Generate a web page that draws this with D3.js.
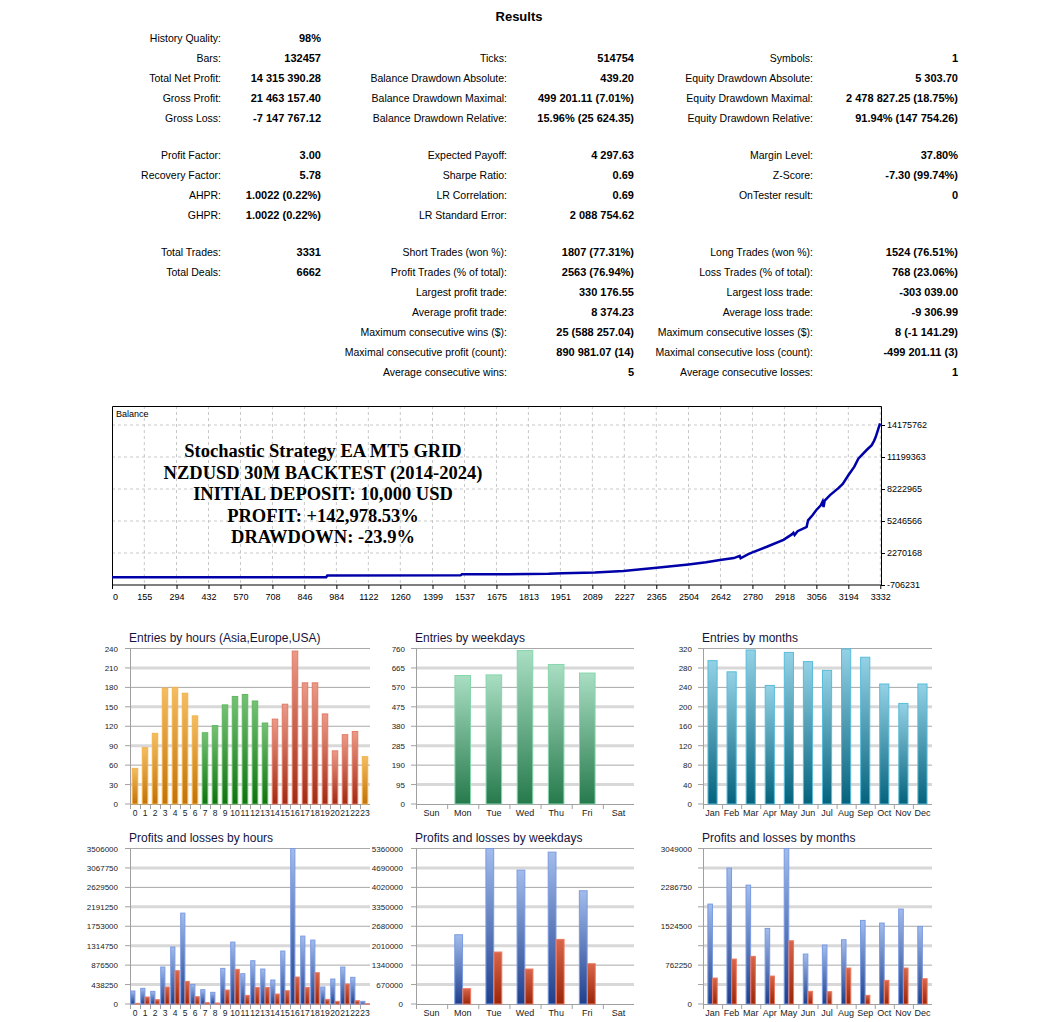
<!DOCTYPE html>
<html><head><meta charset="utf-8">
<script src="https://cdn.jsdelivr.net/npm/d3@7"></script>
<style>
html,body{margin:0;padding:0;background:#fff;}
svg{display:block;}
text{font-family:"Liberation Sans",Arial,sans-serif;}
text.serif{font-family:"Liberation Serif","DejaVu Serif",serif;}
</style></head>
<body>
<svg id="chart" width="1048" height="1022"></svg>
<script>
// ---------------- DATA ----------------
const col1Labels = ["History Quality:","Bars:","Total Net Profit:","Gross Profit:","Gross Loss:","Profit Factor:","Recovery Factor:","AHPR:","GHPR:","Total Trades:","Total Deals:"];
const col1Values = ["98%","132457","14 315 390.28","21 463 157.40","-7 147 767.12","3.00","5.78","1.0022 (0.22%)","1.0022 (0.22%)","3331","6662"];
const col1Rows = [0,1,2,3,4,5,6,7,8,9,10];
const col2Labels = ["Ticks:","Balance Drawdown Absolute:","Balance Drawdown Maximal:","Balance Drawdown Relative:","Expected Payoff:","Sharpe Ratio:","LR Correlation:","LR Standard Error:","Short Trades (won %):","Profit Trades (% of total):","Largest profit trade:","Average profit trade:","Maximum consecutive wins ($):","Maximal consecutive profit (count):","Average consecutive wins:"];
const col2Values = ["514754","439.20","499 201.11 (7.01%)","15.96% (25 624.35)","4 297.63","0.69","0.69","2 088 754.62","1807 (77.31%)","2563 (76.94%)","330 176.55","8 374.23","25 (588 257.04)","890 981.07 (14)","5"];
const col2Rows = [1,2,3,4,5,6,7,8,9,10,11,12,13,14,15];
const col3Labels = ["Symbols:","Equity Drawdown Absolute:","Equity Drawdown Maximal:","Equity Drawdown Relative:","Margin Level:","Z-Score:","OnTester result:","Long Trades (won %):","Loss Trades (% of total):","Largest loss trade:","Average loss trade:","Maximum consecutive losses ($):","Maximal consecutive loss (count):","Average consecutive losses:"];
const col3Values = ["1","5 303.70","2 478 827.25 (18.75%)","91.94% (147 754.26)","37.80%","-7.30 (99.74%)","0","1524 (76.51%)","768 (23.06%)","-303 039.00","-9 306.99","8 (-1 141.29)","-499 201.11 (3)","1"];
const col3Rows = [1,2,3,4,5,6,7,9,10,11,12,13,14,15];

const balanceTrades = [0,940,945,1520,1526,1700,1900,1960,2100,2223,2300,2367,2440,2504,2580,2640,2700,2725,2729,2760,2780,2842,2914,2950,2957,2962,2975,3010,3014,3020,3040,3055,3075,3083,3087,3092,3115,3151,3170,3194,3220,3237,3273,3295,3305,3312,3331];
const balanceValues = [10000,12000,175000,190000,290000,300000,330000,390000,460000,600000,760000,900000,1050000,1200000,1400000,1620000,1800000,2000000,1780000,2150000,2330000,2850000,3500000,4000000,4150000,3950000,4300000,4650000,4700000,5300000,5800000,6250000,6700000,7050000,6550000,7150000,7650000,8300000,8700000,9500000,10300000,11050000,11850000,12300000,12700000,13050000,14325390];
const balanceXTicks = [0,155,294,432,570,708,846,984,1122,1260,1399,1537,1675,1813,1951,2089,2227,2365,2504,2642,2780,2918,3056,3194,3332];
const balanceYTicks = [14175762,11199363,8222965,5246566,2270168,-706231];
const balanceNote = ["Stochastic Strategy EA MT5 GRID","NZDUSD 30M BACKTEST (2014-2024)","INITIAL DEPOSIT: 10,000 USD","PROFIT: +142,978.53%","DRAWDOWN: -23.9%"];

const hours = d3.range(24).map(String);
const weekdays = ["Sun","Mon","Tue","Wed","Thu","Fri","Sat"];
const months = ["Jan","Feb","Mar","Apr","May","Jun","Jul","Aug","Sep","Oct","Nov","Dec"];

const entriesByHour = [55,87,109,179,180,171,136,110,121,153,166,169,159,125,131,154,236,187,187,139,82,107,112,73];
const entriesByWeekday = [0,628,631,750,682,640,0];
const entriesByMonth = [295,272,317,244,312,293,275,319,302,247,207,247];

const profitByHour = [293000,353000,285000,833000,1284000,2049000,443000,323000,263000,803000,1396000,683000,976000,788000,541000,1194000,3506000,1531000,1441000,383000,563000,833000,601000,60000];
const lossByHour = [15000,158000,98000,383000,751000,510000,165000,30000,23000,315000,781000,195000,375000,375000,225000,300000,608000,375000,706000,105000,60000,450000,75000,8000];
const profitByWeekday = [0,2387000,5360000,4614000,5234000,3903000,0];
const lossByWeekday = [0,528000,1791000,1205000,2227000,1389000,0];
const profitByMonth = [1959000,2664000,2331000,1482000,3049000,979000,1156000,1260000,1639000,1587000,1861000,1521000];
const lossByMonth = [509000,881000,934000,548000,1240000,248000,242000,705000,170000,464000,705000,496000];

const ticksEntriesHour = [0,30,60,90,120,150,180,210,240];
const ticksEntriesWeekday = [0,95,190,285,380,475,570,665,760];
const ticksEntriesMonth = [0,40,80,120,160,200,240,280,320];
const ticksPLHour = [0,438250,876500,1314750,1753000,2191250,2629500,3067750,3506000];
const ticksPLWeekday = [0,670000,1340000,2010000,2680000,3350000,4020000,4690000,5360000];
const ticksPLMonth = [0,381125,762250,1143375,1524500,1905625,2286750,2667875,3049000];
const labelsPLMonth = [0,762250,1524500,2286750,3049000];

// ---------------- DRAW ----------------
const svg = d3.select("#chart");
const defs = svg.append("defs");
function grad(id, top, bottom){
  const g = defs.append("linearGradient").attr("id",id).attr("x1",0).attr("y1",0).attr("x2",0).attr("y2",1);
  g.append("stop").attr("offset","0%").attr("stop-color",top);
  g.append("stop").attr("offset","100%").attr("stop-color",bottom);
}
grad("gOrange","#f4bd62","#c27208");
grad("gGreen","#74c274","#0f720f");
grad("gRed","#eb9a88","#a22a12");
grad("gWk","#a9dec3","#267a4c");
grad("gMon","#94d2e6","#05627c");
grad("gBlue","#a2bcec","#1f3f8c");
grad("gLoss","#d9664a","#9a2508");
const strokes = {gOrange:"#f3b24a",gGreen:"#5fb85f",gRed:"#e27a66",gWk:"#86d6ac",gMon:"#58bcda",gBlue:"#7a9ae2",gLoss:"#ea7a62"};

// Results table
svg.append("text").attr("x",519).attr("y",21).attr("text-anchor","middle")
  .attr("font-size",13).attr("font-weight","bold").text("Results");
const rowY = [38,58,78,98,118,155,175,195,215,252,272,292,312,332,352,372];
function tableCol(labels, values, rows, lx, vx){
  labels.forEach((l,i)=>{
    svg.append("text").attr("x",lx).attr("y",rowY[rows[i]]+4).attr("text-anchor","end")
      .attr("font-size",10.5).attr("fill","#000").text(l);
    svg.append("text").attr("x",vx).attr("y",rowY[rows[i]]+4).attr("text-anchor","end")
      .attr("font-size",11).attr("font-weight","bold").attr("fill","#000").text(values[i]);
  });
}
tableCol(col1Labels,col1Values,col1Rows,221,321);
tableCol(col2Labels,col2Values,col2Rows,507,634);
tableCol(col3Labels,col3Values,col3Rows,813,958);

// Balance chart
const bx = d3.scaleLinear().domain([15.5,3335]).range([112,881]).clamp(true);
const by = d3.scaleLinear().domain([-706231,14175762]).range([585,425]);
const bal = svg.append("g");
bal.selectAll("line.vg").data(balanceXTicks.slice(1)).join("line")
  .attr("x1",d=>bx(d)).attr("x2",d=>bx(d)).attr("y1",406).attr("y2",585)
  .attr("stroke","#c8c8c8").attr("stroke-dasharray","3,3");
bal.selectAll("line.hg").data(balanceYTicks.slice(0,-1)).join("line")
  .attr("x1",112).attr("x2",881).attr("y1",d=>by(d)).attr("y2",d=>by(d))
  .attr("stroke","#c8c8c8").attr("stroke-dasharray","3,3");
bal.append("path").attr("d","M112.5,585V406.5H881.5V585H112.5").attr("fill","none").attr("stroke","#000");
const xAx = d3.axisBottom(bx).tickValues(balanceXTicks).tickSize(4).tickFormat(d=>d);
bal.append("g").attr("transform","translate(0,585)").call(xAx)
  .call(g=>{g.select(".domain").remove();
    g.selectAll("text").attr("font-size",9).attr("fill","#000").attr("dy","0.9em");
    g.selectAll(".tick").filter(d=>d===0).select("text").attr("dx",3);});
const yAx = d3.axisRight(by).tickValues(balanceYTicks).tickSize(4).tickFormat(d=>d);
bal.append("g").attr("transform","translate(881,0)").call(yAx)
  .call(g=>{g.select(".domain").remove(); g.selectAll("text").attr("font-size",9).attr("fill","#000").attr("x",6);});
bal.append("text").attr("x",116).attr("y",417).attr("font-size",9).text("Balance");
const line = d3.line().x((d,i)=>bx(balanceTrades[i])).y(d=>by(d));
bal.append("path").datum(balanceValues).attr("d",line).attr("fill","none")
  .attr("stroke","#0000a8").attr("stroke-width",2.5);
balanceNote.forEach((t,i)=>{
  bal.append("text").attr("class","serif").attr("x",323).attr("y",457+i*21.6).attr("text-anchor","middle")
    .attr("font-weight","bold").attr("font-size",18.5).attr("fill","#000").text(t);
});

// Bar panels
function panel(opt){
  const g = svg.append("g");
  const x = d3.scaleBand().domain(opt.cats).range([opt.x0,opt.x1]);
  const y = d3.scaleLinear().domain([0,opt.ticks[opt.ticks.length-1]]).range([opt.yb,opt.yt]);
  g.append("text").attr("x",opt.tx).attr("y",opt.yt-7).attr("font-size",12).attr("fill","#14143c").text(opt.title);
  opt.ticks.forEach((t,i)=>{
    const k = opt.ticks.length-1-i;
    const thin = k%2===0;
    if(t!==0) g.append("line").attr("x1",opt.x0).attr("x2",opt.x1).attr("y1",y(t)).attr("y2",y(t))
      .attr("stroke",thin?"#a8a8a8":"#d8d8d8").attr("stroke-width",thin?1:3);
    g.append("line").attr("x1",opt.x0-5).attr("x2",opt.x0).attr("y1",y(t)).attr("y2",y(t)).attr("stroke","#a0a0a0");
  });
  const lab = opt.labels || opt.ticks;
  lab.forEach(t=>{
    g.append("text").attr("x",opt.lx).attr("y",y(t)+3).attr("text-anchor","end")
      .attr("font-size",8).attr("fill","#222").text(t);
  });
  g.append("line").attr("x1",opt.x0).attr("x2",opt.x1).attr("y1",opt.yb+0.5).attr("y2",opt.yb+0.5).attr("stroke","#a0a0a0");
  g.append("line").attr("x1",opt.x0+0.5).attr("x2",opt.x0+0.5).attr("y1",opt.yt).attr("y2",opt.yb+5).attr("stroke","#a0a0a0");
  opt.cats.forEach((c,i)=>{
    if(i>0) g.append("line").attr("x1",x(c)+0.5).attr("x2",x(c)+0.5).attr("y1",opt.yb).attr("y2",opt.yb+5).attr("stroke","#a0a0a0");
    g.append("text").attr("x",x(c)+x.bandwidth()/2).attr("y",opt.yb+12).attr("text-anchor","middle")
      .attr("font-size",opt.xfs||9).attr("fill","#222").text(c);
  });
  opt.series.forEach(s=>{
    const w = x.bandwidth()*s.w;
    s.values.forEach((v,i)=>{
      if(v<=0) return;
      const c = opt.cats[i];
      const cx = x(c)+x.bandwidth()/2 + s.off*x.bandwidth();
      const gid = s.color(i);
      g.append("rect").attr("x",cx-w/2).attr("y",y(v)).attr("width",w).attr("height",opt.yb-y(v))
        .attr("fill","url(#"+gid+")").attr("stroke",strokes[gid]).attr("stroke-width",1);
    });
  });
}
const session = i => (i<7||i===23) ? "gOrange" : (i<14 ? "gGreen" : "gRed");
const r1 = {yt:648.5,yb:804}, r2 = {yt:848.5,yb:1004};
panel(Object.assign({cats:hours,x0:130,x1:370,lx:118,tx:129,xfs:8.5,title:"Entries by hours (Asia,Europe,USA)",ticks:ticksEntriesHour,
  series:[{values:entriesByHour,w:0.55,off:0,color:session}]},r1));
panel(Object.assign({cats:weekdays,x0:416,x1:634,lx:405,tx:415,title:"Entries by weekdays",ticks:ticksEntriesWeekday,
  series:[{values:entriesByWeekday,w:0.5,off:0,color:()=>"gWk"}]},r1));
panel(Object.assign({cats:months,x0:703,x1:932,lx:692,tx:702,title:"Entries by months",ticks:ticksEntriesMonth,
  series:[{values:entriesByMonth,w:0.48,off:0,color:()=>"gMon"}]},r1));
panel(Object.assign({cats:hours,x0:130,x1:370,lx:118,tx:129,xfs:8.5,title:"Profits and losses by hours",ticks:ticksPLHour,
  series:[{values:profitByHour,w:0.42,off:-0.22,color:()=>"gBlue"},{values:lossByHour,w:0.42,off:0.22,color:()=>"gLoss"}]},r2));
panel(Object.assign({cats:weekdays,x0:416,x1:634,lx:403,tx:415,title:"Profits and losses by weekdays",ticks:ticksPLWeekday,
  series:[{values:profitByWeekday,w:0.25,off:-0.13,color:()=>"gBlue"},{values:lossByWeekday,w:0.25,off:0.13,color:()=>"gLoss"}]},r2));
panel(Object.assign({cats:months,x0:703,x1:932,lx:692,tx:702,title:"Profits and losses by months",ticks:ticksPLMonth,labels:labelsPLMonth,
  series:[{values:profitByMonth,w:0.24,off:-0.125,color:()=>"gBlue"},{values:lossByMonth,w:0.24,off:0.125,color:()=>"gLoss"}]},r2));
</script>
</body></html>
